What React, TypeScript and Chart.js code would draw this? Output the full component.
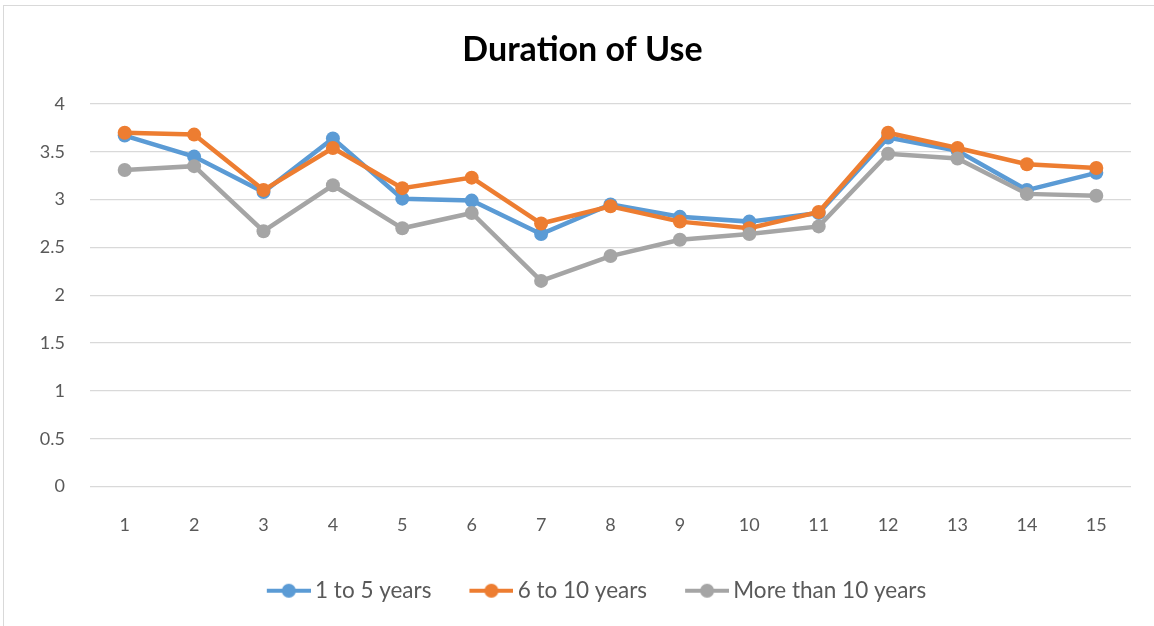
import React, { useEffect, useRef } from "react";
import { Chart, registerables } from "chart.js";

Chart.register(...registerables);

const categories = ["1", "2", "3", "4", "5", "6", "7", "8", "9", "10", "11", "12", "13", "14", "15"];
const seriesNames = ["1 to 5 years", "6 to 10 years", "More than 10 years"];
const oneToFive = [3.67, 3.45, 3.08, 3.64, 3.01, 2.99, 2.64, 2.95, 2.82, 2.77, 2.86, 3.65, 3.51, 3.1, 3.28];
const sixToTen = [3.7, 3.68, 3.1, 3.54, 3.12, 3.23, 2.75, 2.93, 2.77, 2.7, 2.87, 3.7, 3.54, 3.37, 3.33];
const moreThanTen = [3.31, 3.35, 2.67, 3.15, 2.7, 2.86, 2.15, 2.41, 2.58, 2.64, 2.72, 3.48, 3.43, 3.06, 3.04];
const colors = ["#5B9BD5", "#ED7D31", "#A5A5A5"];
const FONT = "Lato, 'Open Sans', sans-serif";

const BOX_W = 65;
const IMG_W = BOX_W + 14;

function legendImage(color: string): HTMLCanvasElement {
  const c = document.createElement("canvas");
  c.width = IMG_W;
  c.height = 16;
  const ctx = c.getContext("2d")!;
  const x0 = IMG_W - 44;
  ctx.strokeStyle = color;
  ctx.lineWidth = 4;
  ctx.beginPath();
  ctx.moveTo(x0, 8);
  ctx.lineTo(IMG_W, 8);
  ctx.stroke();
  ctx.fillStyle = color;
  ctx.beginPath();
  ctx.arc(x0 + 22, 8, 7, 0, Math.PI * 2);
  ctx.fill();
  return c;
}

export default function App() {
  const ref = useRef<HTMLCanvasElement>(null);
  useEffect(() => {
    const images = colors.map(legendImage);
    const values = [oneToFive, sixToTen, moreThanTen];
    const chart = new Chart(ref.current!, {
      type: "line",
      data: {
        labels: categories,
        datasets: values.map((v, i) => ({
          label: seriesNames[i],
          data: v,
          borderColor: colors[i],
          backgroundColor: colors[i],
          pointBackgroundColor: colors[i],
          pointBorderColor: colors[i],
          borderWidth: 4.5,
          pointRadius: 7,
          pointBorderWidth: 0,
          tension: 0,
          order: 2 - i,
        })),
      },
      options: {
        animation: false,
        responsive: false,
        layout: { padding: { left: 30, right: 25, top: 0, bottom: 24 } },
        scales: {
          x: {
            offset: true,
            grid: { display: false, drawTicks: false },
            border: { display: false },
            ticks: { color: "#595959", font: { family: FONT, size: 18 }, padding: 28 },
            afterFit: (s: any) => {
              s.height = 83;
            },
          },
          y: {
            min: 0,
            max: 4,
            ticks: {
              stepSize: 0.5,
              color: "#595959",
              font: { family: FONT, size: 18 },
              padding: 25,
              callback: (v: any) => String(Number(v)),
            },
            grid: { color: "#D9D9D9", lineWidth: 1.3, drawTicks: false },
            border: { display: false },
            afterFit: (s: any) => {
              s.width = 56;
            },
          },
        },
        plugins: {
          title: {
            display: true,
            text: "Duration of Use",
            color: "#000000",
            font: { family: FONT, size: 34, weight: "bold" },
            padding: { top: 23.5, bottom: 33.7 },
          },
          tooltip: { enabled: false },
          legend: {
            position: "bottom",
            labels: {
              usePointStyle: true,
              pointStyleWidth: BOX_W,
              boxHeight: 16,
              color: "#595959",
              font: { family: FONT, size: 22.5 },
              padding: 10,
              generateLabels: (c: any) => {
                const items = Chart.defaults.plugins.legend.labels.generateLabels(c);
                items.sort((a: any, b: any) => a.datasetIndex - b.datasetIndex);
                items.forEach((it: any) => {
                  it.pointStyle = images[it.datasetIndex];
                });
                return items;
              },
            },
          },
        },
      },
    });
    return () => chart.destroy();
  }, []);
  return (
    <div
      style={{
        position: "absolute",
        left: 3,
        top: 5,
        width: 1160,
        height: 630,
        border: "1px solid #D9D9D9",
        background: "#fff",
      }}
    >
      <canvas ref={ref} width={1152} height={630} style={{ display: "block" }} />
    </div>
  );
}
